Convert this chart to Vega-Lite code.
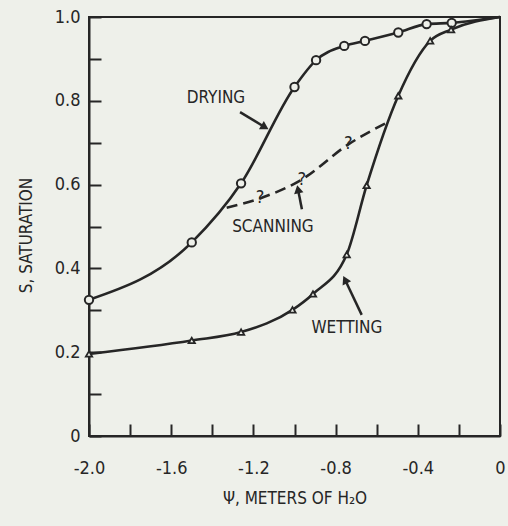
{
  "$schema": "https://vega.github.io/schema/vega-lite/v6.json",
  "width": 411,
  "height": 419,
  "autosize": {"type": "none"},
  "padding": {"left": 89, "top": 17, "right": 8, "bottom": 90},
  "background": "#eef0ea",
  "config": {
    "view": {"stroke": "#262626", "strokeWidth": 2},
    "font": "DejaVu Sans Condensed",
    "axis": {
      "grid": false,
      "domainColor": "#262626",
      "domainWidth": 2,
      "tickColor": "#262626",
      "tickWidth": 2,
      "tickSize": -12,
      "labelColor": "#262626",
      "labelFont": "DejaVu Sans Condensed",
      "labelFontSize": 18,
      "titleColor": "#262626",
      "titleFont": "DejaVu Sans Condensed",
      "titleFontSize": 17,
      "titleFontWeight": "normal"
    }
  },
  "datasets": {
    "curves": [
      {"curve": "Drying", "psi": -2.0, "s": 0.325},
      {"curve": "Drying", "psi": -1.5, "s": 0.462},
      {"curve": "Drying", "psi": -1.26, "s": 0.603},
      {"curve": "Drying", "psi": -1.0, "s": 0.833},
      {"curve": "Drying", "psi": -0.895, "s": 0.897},
      {"curve": "Drying", "psi": -0.758, "s": 0.931},
      {"curve": "Drying", "psi": -0.657, "s": 0.943},
      {"curve": "Drying", "psi": -0.495, "s": 0.963},
      {"curve": "Drying", "psi": -0.357, "s": 0.983},
      {"curve": "Drying", "psi": -0.235, "s": 0.986},
      {"curve": "Drying", "psi": 0.0, "s": 1.0},
      {"curve": "Wetting", "psi": -2.0, "s": 0.196},
      {"curve": "Wetting", "psi": -1.5, "s": 0.228},
      {"curve": "Wetting", "psi": -1.26, "s": 0.248},
      {"curve": "Wetting", "psi": -1.01, "s": 0.301},
      {"curve": "Wetting", "psi": -0.91, "s": 0.339},
      {"curve": "Wetting", "psi": -0.746, "s": 0.433},
      {"curve": "Wetting", "psi": -0.649, "s": 0.598},
      {"curve": "Wetting", "psi": -0.495, "s": 0.812},
      {"curve": "Wetting", "psi": -0.34, "s": 0.943},
      {"curve": "Wetting", "psi": -0.238, "s": 0.97},
      {"curve": "Wetting", "psi": 0.0, "s": 1.0}
    ],
    "scanning": [
      {"psi": -1.33, "s": 0.545, "mark": ""},
      {"psi": -1.168, "s": 0.567, "mark": "?"},
      {"psi": -0.965, "s": 0.612, "mark": "?"},
      {"psi": -0.738, "s": 0.696, "mark": "?"},
      {"psi": -0.55, "s": 0.748, "mark": ""}
    ],
    "labels": [
      {"text": "DRYING", "psi": -1.382, "s": 0.806},
      {"text": "SCANNING", "psi": -1.105, "s": 0.5},
      {"text": "WETTING", "psi": -0.745, "s": 0.258}
    ],
    "arrows": [
      {"name": "DRYING", "psi": -1.265, "s": 0.773, "psi2": -1.144, "s2": 0.737},
      {"name": "SCANNING", "psi": -0.964, "s": 0.541, "psi2": -0.983, "s2": 0.589},
      {"name": "WETTING", "psi": -0.673, "s": 0.289, "psi2": -0.754, "s2": 0.373}
    ]
  },
  "layer": [
    {
      "data": {"name": "curves"},
      "mark": {"type": "line", "interpolate": "monotone", "color": "#262626", "strokeWidth": 2.6},
      "encoding": {
        "x": {
          "field": "psi", "type": "quantitative",
          "scale": {"domain": [-2, 0], "nice": false, "zero": false},
          "axis": {
            "values": [-2, -1.8, -1.6, -1.4, -1.2, -1, -0.8, -0.6, -0.4, -0.2, 0],
            "labelExpr": "round(datum.value*10)%4==0 ? (datum.value==0 ? '0' : '-' + format(abs(datum.value), '.1f')) : ''",
            "labelPadding": 35,
            "labelFlush": false,
            "labelDx": 3,
            "title": "Ψ, METERS OF H₂O",
            "titleY": 62,
            "titleBaseline": "middle"
          }
        },
        "y": {
          "field": "s", "type": "quantitative",
          "scale": {"domain": [0, 1], "nice": false, "zero": false},
          "axis": {
            "values": [0, 0.1, 0.2, 0.3, 0.4, 0.5, 0.6, 0.7, 0.8, 0.9, 1.0],
            "labelExpr": "round(datum.value*10)%2==0 ? (datum.value==0 ? '0' : format(datum.value, '.1f')) : ''",
            "labelPadding": 21,
            "labelFlush": false,
            "title": "S, SATURATION",
            "titleX": -63,
            "titleY": 218,
            "titleAngle": -90,
            "titleBaseline": "middle"
          }
        },
        "detail": {"field": "curve"}
      }
    },
    {
      "data": {"name": "scanning"},
      "mark": {"type": "line", "interpolate": "monotone", "color": "#262626", "strokeWidth": 2.6, "strokeDash": [11, 6]},
      "encoding": {
        "x": {"field": "psi", "type": "quantitative"},
        "y": {"field": "s", "type": "quantitative"}
      }
    },
    {
      "data": {"name": "scanning"},
      "mark": {"type": "text", "color": "#262626", "fontSize": 18, "font": "DejaVu Sans Condensed", "baseline": "middle", "align": "center", "dy": 0},
      "encoding": {
        "x": {"field": "psi", "type": "quantitative"},
        "y": {"field": "s", "type": "quantitative"},
        "text": {"field": "mark"}
      }
    },
    {
      "data": {"name": "curves"},
      "transform": [{"filter": "datum.curve == 'Drying' && datum.psi < 0"}],
      "mark": {"type": "point", "shape": "circle", "size": 70, "filled": true, "fill": "#eef0ea", "stroke": "#262626", "strokeWidth": 2, "opacity": 1},
      "encoding": {
        "x": {"field": "psi", "type": "quantitative"},
        "y": {"field": "s", "type": "quantitative"}
      }
    },
    {
      "data": {"name": "curves"},
      "transform": [{"filter": "datum.curve == 'Wetting' && datum.psi < 0"}],
      "mark": {"type": "point", "shape": "triangle-up", "size": 40, "filled": true, "fill": "#eef0ea", "stroke": "#262626", "strokeWidth": 1.8, "opacity": 1},
      "encoding": {
        "x": {"field": "psi", "type": "quantitative"},
        "y": {"field": "s", "type": "quantitative"}
      }
    },
    {
      "data": {"name": "labels"},
      "mark": {"type": "text", "color": "#262626", "fontSize": 17, "font": "DejaVu Sans Condensed", "baseline": "middle", "align": "center"},
      "encoding": {
        "x": {"field": "psi", "type": "quantitative"},
        "y": {"field": "s", "type": "quantitative"},
        "text": {"field": "text"}
      }
    },
    {
      "data": {"name": "arrows"},
      "mark": {"type": "rule", "color": "#262626", "strokeWidth": 2.5},
      "encoding": {
        "x": {"field": "psi", "type": "quantitative"},
        "y": {"field": "s", "type": "quantitative"},
        "x2": {"field": "psi2"},
        "y2": {"field": "s2"}
      }
    },
    {
      "data": {"name": "arrows"},
      "transform": [{"filter": "datum.name == 'DRYING'"}],
      "mark": {"type": "point", "shape": "triangle-up", "size": 90, "filled": true, "color": "#262626", "opacity": 1, "angle": 121},
      "encoding": {
        "x": {"field": "psi2", "type": "quantitative"},
        "y": {"field": "s2", "type": "quantitative"}
      }
    },
    {
      "data": {"name": "arrows"},
      "transform": [{"filter": "datum.name == 'SCANNING'"}],
      "mark": {"type": "point", "shape": "triangle-up", "size": 90, "filled": true, "color": "#262626", "opacity": 1, "angle": 349},
      "encoding": {
        "x": {"field": "psi2", "type": "quantitative"},
        "y": {"field": "s2", "type": "quantitative"}
      }
    },
    {
      "data": {"name": "arrows"},
      "transform": [{"filter": "datum.name == 'WETTING'"}],
      "mark": {"type": "point", "shape": "triangle-up", "size": 90, "filled": true, "color": "#262626", "opacity": 1, "angle": 334},
      "encoding": {
        "x": {"field": "psi2", "type": "quantitative"},
        "y": {"field": "s2", "type": "quantitative"}
      }
    }
  ]
}
